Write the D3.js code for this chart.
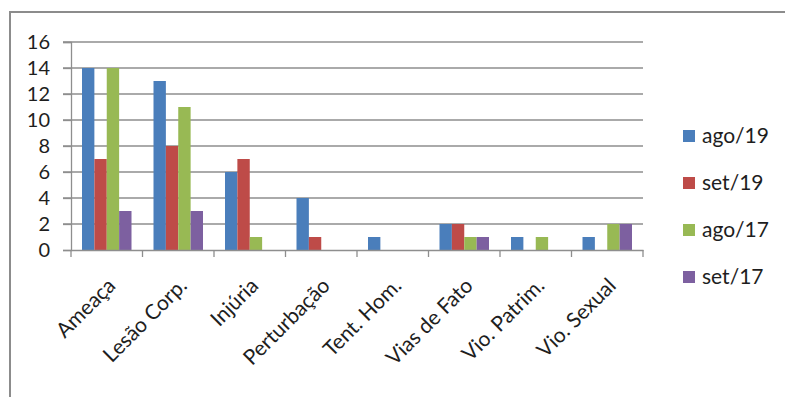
<!DOCTYPE html>
<html><head><meta charset="utf-8">
<script src="https://cdn.jsdelivr.net/npm/d3@7"></script>
<style>body{margin:0;background:#fff}svg{display:block}</style>
</head><body>
<svg id="c" width="785" height="397"></svg>
<script>
const categories = ["Ameaça","Lesão Corp.","Injúria","Perturbação","Tent. Hom.","Vias de Fato","Vio. Patrim.","Vio. Sexual"];
const seriesNames = ["ago/19","set/19","ago/17","set/17"];
const ago19 = [14,13,6,4,1,2,1,1];
const set19 = [7,8,7,1,0,2,0,0];
const ago17 = [14,11,1,0,0,1,1,2];
const set17 = [3,3,0,0,0,1,0,2];
const yTicks = [0,2,4,6,8,10,12,14,16];
const colors = ["#4a7ebb","#be4b48","#98b954","#7d60a0"];
const seriesValues = [ago19,set19,ago17,set17];

const font = "Lato,'DejaVu Sans Condensed',sans-serif";
const svg = d3.select("#c");
svg.append("rect").attr("x",10).attr("y",12).attr("width",790).attr("height",400)
  .attr("fill","#fff").attr("stroke","#8c8c8c").attr("stroke-width",2);

const x0 = d3.scaleBand().domain(categories).range([71,643]).padding(0);
const x1 = d3.scaleBand().domain(seriesNames).range([11, x0.bandwidth()-11]).padding(0);
const y = d3.scaleLinear().domain([0,16]).range([250,42]);

// gridlines
svg.append("g").selectAll("line").data(yTicks.filter(t=>t>0)).join("line")
  .attr("x1",63).attr("x2",643).attr("y1",d=>y(d)).attr("y2",d=>y(d))
  .attr("stroke","#8e8e8e").attr("stroke-width",1.3);

// y axis
const ya = svg.append("g").attr("transform","translate(71,0)")
  .call(d3.axisLeft(y).tickValues(yTicks).tickSize(8).tickPadding(13));
ya.select(".domain").attr("stroke","#8e8e8e").attr("stroke-width",1.3);
ya.selectAll(".tick line").attr("stroke","#8e8e8e").attr("stroke-width",1.3);
ya.selectAll("text").attr("font-family",font).attr("font-size",20).attr("fill","#1e1e1e");

// bars
const g = svg.append("g");
categories.forEach((c,i)=>{
  seriesNames.forEach((s,j)=>{
    const v = seriesValues[j][i];
    if(v<=0) return;
    g.append("rect").attr("x",x0(c)+x1(s)).attr("width",x1.bandwidth())
      .attr("y",y(v)).attr("height",y(0)-y(v)).attr("fill",colors[j]);
  });
});

// x axis
const xa = svg.append("g").attr("transform","translate(0,250)")
  .call(d3.axisBottom(x0).tickSize(0).tickFormat(""));
xa.select(".domain").attr("stroke","#8e8e8e").attr("stroke-width",1.3);
xa.selectAll("line.sep").data(d3.range(categories.length+1)).join("line")
  .attr("x1",i=>71+i*x0.bandwidth()).attr("x2",i=>71+i*x0.bandwidth())
  .attr("y1",0).attr("y2",7).attr("stroke","#8e8e8e").attr("stroke-width",1.3);
svg.append("g").selectAll("text").data(categories).join("text")
  .attr("transform",d=>`translate(${x0(d)+x0.bandwidth()/2+10},${287}) rotate(-45)`)
  .attr("text-anchor","end").attr("font-family",font).attr("font-size",21).attr("fill","#1e1e1e")
  .text(d=>d);

// legend
const lg = svg.append("g");
seriesNames.forEach((s,j)=>{
  const ly = 136 + j*47;
  lg.append("rect").attr("x",683).attr("y",ly-6).attr("width",12).attr("height",12).attr("fill",colors[j]);
  lg.append("text").attr("x",702).attr("y",ly).attr("dy","0.35em")
    .attr("font-family",font).attr("font-size",21).attr("fill","#1e1e1e").text(s);
});
</script>
</body></html>
